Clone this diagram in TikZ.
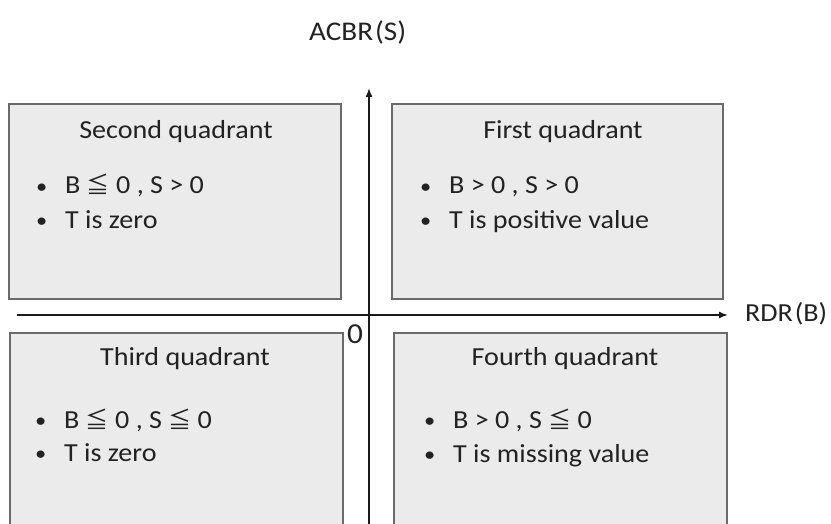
\documentclass[tikz,border=0pt]{standalone}
\usepackage{fontspec}
\setmainfont{Carlito}[FakeStretch=1.08]
\newfontfamily\cjk{Noto Sans CJK JP}
\usetikzlibrary{arrows.meta}
\definecolor{boxfill}{HTML}{EBEBEB}
\definecolor{boxline}{HTML}{6A6A6A}
\definecolor{textcol}{HTML}{222222}
\newcommand{\bul}{\makebox[29pt][l]{\raisebox{1pt}{\scalebox{0.8}{•}}}}
\newcommand{\myleq}{{\cjk\fontsize{23}{28}\selectfont ≦}}
\begin{document}
\begin{tikzpicture}[x=1pt,y=-1pt,
  qbox/.style={draw=boxline, fill=boxfill, line width=1.8pt, inner sep=0pt},
  ttl/.style={font=\fontsize{26}{30}\selectfont, text=textcol, inner sep=0pt, anchor=base},
  line/.style={font=\fontsize{26}{30}\selectfont, text=textcol, inner sep=0pt, anchor=base west},
  axlabel/.style={font=\fontsize{26}{30}\selectfont, text=textcol, inner sep=0pt, anchor=base west},
  axisline/.style={line width=1.5pt, draw=black!90, -{Latex[length=9pt,width=7pt]}}]
\useasboundingbox (0,0) rectangle (831,524);
\fill[white] (0,0) rectangle (831,524);

% boxes
\node[qbox, minimum width=332pt, minimum height=195pt] (q2) at (175,201.5) {};
\node[qbox, minimum width=331pt, minimum height=195pt] (q1) at (557.5,201.5) {};
\node[qbox, minimum width=333pt, minimum height=193pt] (q3) at (176.5,429.5) {};
\node[qbox, minimum width=333pt, minimum height=193pt] (q4) at (560.5,429.5) {};

% axes
\coordinate (hstart) at (17,315);
\coordinate (hend) at (728,315);
\coordinate (vstart) at (369,527);
\coordinate (vend) at (369,88);
\draw[axisline] (hstart) -- (hend);
\draw[axisline] (vstart) -- (vend);

\node[axlabel, font=\fontsize{27}{30}\selectfont] (ylab) at (309,41) {ACBR\kern2pt(S)};
\node[axlabel] (xlab) at (745,321) {RDR\kern2pt(B)};
\node[axlabel, font=\fontsize{29}{32}\selectfont] (orig) at (347,343) {0};

% second quadrant
\node[ttl] (t2) at (176,139) {Second quadrant};
\node[line] (a2) at (36,194) {\bul B \myleq\ 0 , S > 0};
\node[line] (b2) at (36,229) {\bul T is zero};

% first quadrant
\node[ttl] (t1) at (563,139) {First quadrant};
\node[line] (a1) at (420,194) {\bul B > 0 , S > 0};
\node[line] (b1) at (420,229) {\bul T is positive value};

% third quadrant
\node[ttl] (t3) at (185,365) {Third quadrant};
\node[line] (a3) at (35,428) {\bul B \myleq\ 0 , S \myleq\ 0};
\node[line] (b3) at (35,461) {\bul T is zero};

% fourth quadrant
\node[ttl] (t4) at (565,365) {Fourth quadrant};
\node[line] (a4) at (424,428) {\bul B > 0 , S \myleq\ 0};
\node[line] (b4) at (424,462) {\bul T is missing value};
\end{tikzpicture}
\end{document}
